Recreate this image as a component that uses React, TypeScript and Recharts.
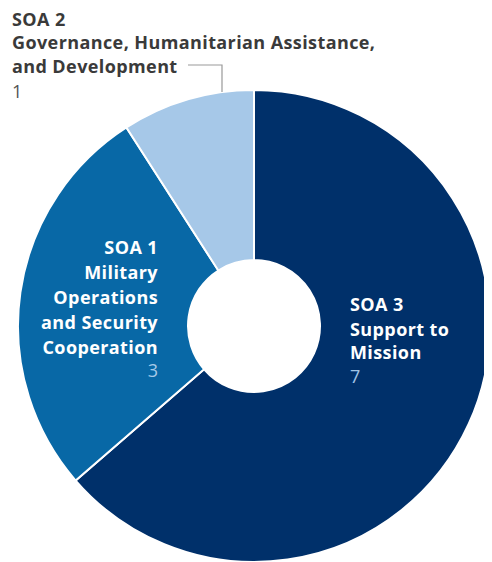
import React from "react";
import { PieChart, Pie, Cell } from "recharts";

const categories = ["SOA 3", "SOA 1", "SOA 2"];
const descriptions = [
  ["Support to", "Mission"],
  ["Military", "Operations", "and Security", "Cooperation"],
  ["Governance, Humanitarian Assistance,", "and Development"],
];
const values = [7, 3, 1];

const COLORS = ["#00306a", "#0868a6", "#a6c8e8"];
const FONT = "'Open Sans', 'Noto Sans', sans-serif";
const FS = 18;
const LS = 0.4;

const data = categories.map((c, i) => ({ name: c, desc: descriptions[i], value: values[i] }));

const renderLabel = (props: any) => {
  const { cx, cy, index, payload } = props;
  const d = payload && payload.desc ? payload : data[index];
  const lines: string[] = [d.name, ...d.desc];
  if (index === 0) {
    const x = cx + 96;
    const ys = [-15, 10, 33];
    return (
      <g>
        {lines.map((l, i) => (
          <text key={i} x={x} y={cy + ys[i]} fill="#ffffff" fontFamily={FONT} fontWeight={700} fontSize={FS} letterSpacing={LS} textAnchor="start">
            {l}
          </text>
        ))}
        <text x={x} y={cy + 57} fill="#9fc3e6" fontFamily={FONT} fontSize={FS} textAnchor="start">
          {d.value}
        </text>
      </g>
    );
  }
  if (index === 1) {
    const x = cx - 96;
    const ys = [-72, -47, -22, 3, 28];
    return (
      <g>
        {lines.map((l, i) => (
          <text key={i} x={x} y={cy + ys[i]} fill="#ffffff" fontFamily={FONT} fontWeight={700} fontSize={FS} letterSpacing={LS} textAnchor="end">
            {l}
          </text>
        ))}
        <text x={x} y={cy + 51} fill="#a6c8e8" fontFamily={FONT} fontSize={FS} textAnchor="end">
          {d.value}
        </text>
      </g>
    );
  }
  const x = cx - 242;
  const ys = [-300, -277, -253];
  return (
    <g>
      {lines.map((l, i) => (
        <text key={i} x={x} y={cy + ys[i]} fill="#3a3a3a" fontFamily={FONT} fontWeight={700} fontSize={FS} letterSpacing={LS} textAnchor="start">
          {l}
        </text>
      ))}
      <text x={x} y={cy - 228} fill="#555555" fontFamily={FONT} fontSize={FS} textAnchor="start">
        {d.value}
      </text>
      <polyline
        points={`${cx - 66},${cy - 261} ${cx - 32},${cy - 261} ${cx - 32},${cy - 234}`}
        fill="none"
        stroke="#999999"
        strokeWidth={1.2}
      />
    </g>
  );
};

export default function App() {
  return (
    <PieChart width={492} height={562} margin={{ top: 0, right: 0, bottom: 0, left: 0 }}>
      <Pie
        data={data}
        dataKey="value"
        nameKey="name"
        cx={246}
        cy={318}
        innerRadius={66}
        outerRadius={236}
        startAngle={90}
        endAngle={-270}
        stroke="#ffffff"
        strokeWidth={2}
        label={renderLabel}
        labelLine={false}
        isAnimationActive={false}
      >
        {data.map((_, i) => (
          <Cell key={i} fill={COLORS[i]} />
        ))}
      </Pie>
    </PieChart>
  );
}
